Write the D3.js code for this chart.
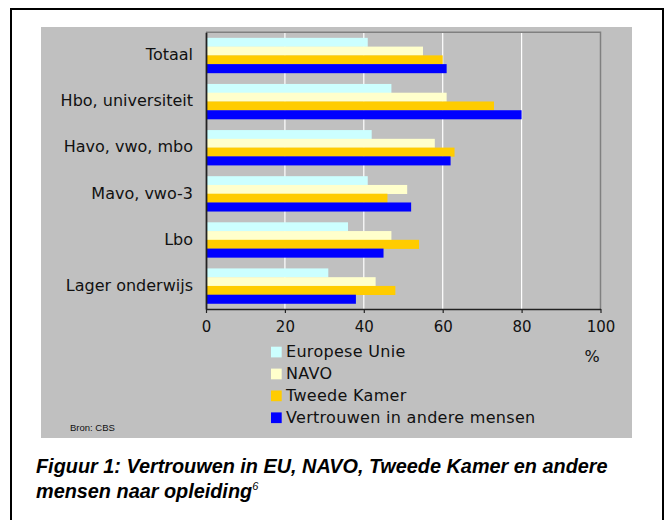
<!DOCTYPE html>
<html>
<head>
<meta charset="utf-8">
<script src="https://cdn.jsdelivr.net/npm/d3@7"></script>
<style>
  html, body { margin: 0; padding: 0; background: #fff; }
  svg { display: block; }
</style>
</head>
<body>
<svg id="chart" width="664" height="520"></svg>
<script>
// categories (top to bottom) and series
const categories = ["Totaal", "Hbo, universiteit", "Havo, vwo, mbo", "Mavo, vwo-3", "Lbo", "Lager onderwijs"];
const seriesNames = ["Europese Unie", "NAVO", "Tweede Kamer", "Vertrouwen in andere mensen"];
const seriesColors = ["#ccffff", "#ffffcc", "#ffcc00", "#0000ff"];

const europeseUnie = [41, 47, 42, 41, 36, 31];
const navo         = [55, 61, 58, 51, 47, 43];
const tweedeKamer  = [60, 73, 63, 46, 54, 48];
const vertrouwen   = [61, 80, 62, 52, 45, 38];

const xTicks = [0, 20, 40, 60, 80, 100];

const seriesValues = [europeseUnie, navo, tweedeKamer, vertrouwen];

const svg = d3.select("#chart");

// outer frame
svg.append("rect")
  .attr("x", 11).attr("y", 9).attr("width", 652).attr("height", 530)
  .attr("fill", "#fff").attr("stroke", "#000").attr("stroke-width", 2);

// grey chart panel
svg.append("rect")
  .attr("x", 41).attr("y", 27).attr("width", 591).attr("height", 411)
  .attr("fill", "#c0c0c0");

const plotLeft = 206, plotRight = 600.5, plotTop = 32.3, plotBottom = 309;

const x = d3.scaleLinear().domain([0, 100]).range([plotLeft, plotRight]);

const y0 = d3.scaleBand()
  .domain(categories)
  .range([plotTop, plotBottom])
  .paddingInner(0.24)
  .paddingOuter(0.12);

const y1 = d3.scaleBand()
  .domain(seriesNames)
  .range([0, y0.bandwidth()]);

// gridlines
svg.append("g")
  .selectAll("line")
  .data(xTicks.filter(d => d > 0 && d < 100))
  .join("line")
  .attr("x1", d => x(d)).attr("x2", d => x(d))
  .attr("y1", plotTop).attr("y2", plotBottom)
  .attr("stroke", "#fff").attr("stroke-width", 1.2);

// plot border (top and right)
svg.append("path")
  .attr("d", `M${plotLeft},${plotTop}H${plotRight}V${plotBottom}`)
  .attr("fill", "none").attr("stroke", "#808080").attr("stroke-width", 1.5);

// bars
const groups = svg.append("g")
  .selectAll("g")
  .data(categories)
  .join("g")
  .attr("transform", d => `translate(0,${y0(d)})`);

groups.selectAll("rect")
  .data((c, i) => seriesNames.map((s, j) => ({ s, j, v: seriesValues[j][i] })))
  .join("rect")
  .attr("x", x(0))
  .attr("y", d => y1(d.s))
  .attr("width", d => x(d.v) - x(0))
  .attr("height", y1.bandwidth() + 0.3)
  .attr("fill", d => seriesColors[d.j]);

// bottom axis
const xAxis = svg.append("g")
  .attr("transform", `translate(0,${plotBottom})`)
  .call(d3.axisBottom(x).tickValues(xTicks).tickSize(4).tickSizeOuter(0).tickPadding(8));
xAxis.select(".domain").attr("stroke", "#222").attr("stroke-width", 1.5);
xAxis.selectAll(".tick line").attr("stroke", "#222").attr("stroke-width", 1.2);
xAxis.selectAll(".tick text")
  .attr("font-family", "DejaVu Sans, Verdana, sans-serif")
  .attr("font-size", 15)
  .attr("fill", "#111");

// left axis
const yAxis = svg.append("g")
  .attr("transform", `translate(${plotLeft},0)`)
  .call(d3.axisLeft(y0).tickSize(0).tickSizeOuter(0).tickPadding(13));
yAxis.select(".domain").attr("stroke", "#222").attr("stroke-width", 1.8);
yAxis.selectAll(".tick text")
  .attr("font-family", "DejaVu Sans, Verdana, sans-serif")
  .attr("font-size", 16)
  .attr("fill", "#111")
  .attr("dy", "0.3em");

// unit label
svg.append("text")
  .attr("x", 592).attr("y", 361.5)
  .attr("text-anchor", "middle")
  .attr("font-family", "DejaVu Sans, Verdana, sans-serif")
  .attr("font-size", 16)
  .attr("fill", "#111")
  .text("%");

// legend
const legend = svg.append("g")
  .selectAll("g")
  .data(seriesNames)
  .join("g")
  .attr("transform", (d, i) => `translate(271,${346.7 + i * 21.9})`);
legend.append("rect")
  .attr("width", 10.7).attr("height", 10.7)
  .attr("fill", (d, i) => seriesColors[i]);
legend.append("text")
  .attr("x", 15).attr("y", 10.7)
  .attr("font-family", "DejaVu Sans, Verdana, sans-serif")
  .attr("font-size", 16)
  .attr("letter-spacing", 0.3)
  .attr("fill", "#111")
  .text(d => d);

// source
svg.append("text")
  .attr("x", 70).attr("y", 431)
  .attr("font-family", "Liberation Sans, Arial, sans-serif")
  .attr("font-size", 9.5)
  .attr("fill", "#111")
  .text("Bron: CBS");

// caption
const cap1 = svg.append("text")
  .attr("x", 36).attr("y", 473)
  .attr("font-family", "Liberation Sans, Arial, sans-serif")
  .attr("font-weight", "bold")
  .attr("font-style", "italic")
  .attr("font-size", 19)
  .attr("fill", "#000")
  .text("Figuur 1: Vertrouwen in EU, NAVO, Tweede Kamer en andere");
const cap2 = svg.append("text")
  .attr("x", 36).attr("y", 498)
  .attr("font-family", "Liberation Sans, Arial, sans-serif")
  .attr("font-weight", "bold")
  .attr("font-style", "italic")
  .attr("font-size", 19)
  .attr("fill", "#000");
cap2.append("tspan").text("mensen naar opleiding");
cap2.append("tspan").attr("font-size", 11).attr("font-weight", "normal").attr("dy", -8).text("6");

const w1 = cap1.node().getComputedTextLength();
const fs = 19 * 572 / w1;
cap1.attr("font-size", fs);
cap2.attr("font-size", fs);
</script>
</body>
</html>
